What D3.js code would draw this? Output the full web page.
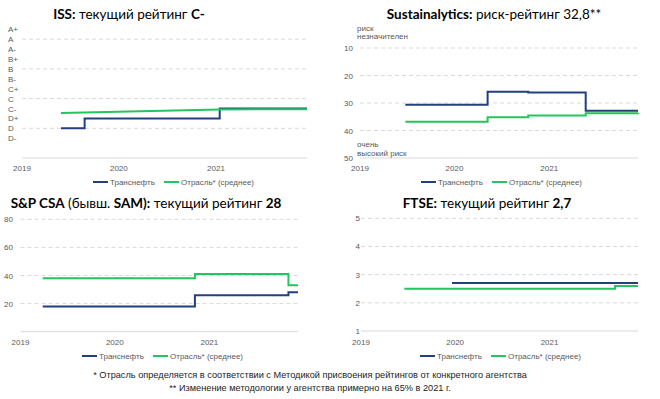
<!DOCTYPE html>
<html>
<head>
<meta charset="utf-8">
<script src="https://cdn.jsdelivr.net/npm/d3@7"></script>
<style>
  body { margin: 0; background: #fff; }
  svg { display: block; }
  .tick-label { font-family: "Liberation Sans", Arial, sans-serif; font-size: 8px; fill: #595959; }
  .legend-label { font-family: "Liberation Sans", Arial, sans-serif; font-size: 8px; fill: #595959; }
  .title { font-family: Lato, "Open Sans", sans-serif; font-size: 13.5px; fill: #000; }
  .note { font-family: "Liberation Sans", Arial, sans-serif; font-size: 9.2px; fill: #222; }
</style>
</head>
<body>
<svg id="chart" width="660" height="399"></svg>
<script>
// ISS
const issLevels = ["D-", "D", "D+", "C-", "C", "C+", "B-", "B", "B+", "A-", "A", "A+"];
const issGrid = ["D", "C", "B", "A"];
const issTransneftDates = ["2019-05-28", "2019-08-25", "2021-01-15", "2021-12-10"];
const issTransneft = ["D", "D+", "C-", "C-"];
const issIndustryDates = ["2019-05-28", "2021-01-15", "2021-12-10"];
const issIndustry = [3.55, 3.9, 3.93];

// Sustainalytics (risk, inverted axis)
const susTicks = [10, 20, 30, 40, 50];
const susDates = ["2019-06-25", "2020-05-08", "2020-10-12", "2021-05-22", "2021-12-10"];
const susTransneft = [30.6, 25.9, 26.2, 32.8, 32.8];
const susIndustry = [36.8, 35.2, 34.5, 33.7, 33.6];

// S&P CSA
const spTicks = [20, 40, 60, 80];
const spDates = ["2019-03-28", "2020-11-06", "2021-11-03", "2021-12-10"];
const spTransneft = [18, 26, 28, 28];
const spIndustry = [38, 41, 33, 33];

// FTSE
const ftseTicks = [1, 2, 3, 4, 5];
const ftseTransneftDates = ["2019-12-20", "2021-12-10"];
const ftseTransneft = [2.7, 2.7];
const ftseIndustryDates = ["2019-06-18", "2021-09-12", "2021-12-10"];
const ftseIndustry = [2.5, 2.6, 2.6];

const years = ["2019", "2020", "2021"];
const seriesNames = ["Транснефть", "Отрасль* (среднее)"];
const notes = [
  "* Отрасль определяется в соответствии с Методикой присвоения рейтингов от конкретного агентства",
  "** Изменение методологии у агентства примерно на 65% в 2021 г."
];

const navy = "#22407c";
const green = "#22c55e";
const parse = d3.timeParse("%Y-%m-%d");
const svg = d3.select("#chart");

function pairs(dates, values) {
  return dates.map((d, i) => ({date: parse(d), value: values[i]}));
}

function drawPanel(p) {
  const g = svg.append("g");
  const x = d3.scaleTime()
    .domain([parse("2019-01-01"), parse("2021-12-10")])
    .range(p.xRange);
  const y = p.y;

  // title
  const t = g.append("text").attr("class", "title")
    .attr("x", p.titleX).attr("y", p.titleY)
    .attr("text-anchor", "middle");
  p.title.forEach(part => {
    t.append("tspan").text(part[0]).attr("font-weight", part[1] ? "bold" : "normal");
  });

  // grid
  g.selectAll(".grid").data(p.grid).enter().append("line")
    .attr("x1", p.xRange[0]).attr("x2", p.xRange[1])
    .attr("y1", d => y(d)).attr("y2", d => y(d))
    .attr("stroke", "#d9d9d9").attr("stroke-width", 1)
    .attr("stroke-dasharray", "4,3");
  g.append("line")
    .attr("x1", p.xRange[0]).attr("x2", p.xRange[1])
    .attr("y1", y(p.base)).attr("y2", y(p.base))
    .attr("stroke", "#d9d9d9").attr("stroke-width", 1);

  // y labels
  g.selectAll(".ylab").data(p.yLabels).enter().append("text")
    .attr("class", "tick-label")
    .attr("x", p.yLabelX).attr("y", d => y(d) + 3)
    .attr("text-anchor", p.yAnchor)
    .text(d => p.yFormat ? p.yFormat(d) : d);

  // x labels
  g.selectAll(".xlab").data(years).enter().append("text")
    .attr("class", "tick-label")
    .attr("x", d => x(parse(d + "-01-01")))
    .attr("y", p.xLabelY)
    .attr("text-anchor", "middle")
    .text(d => d);

  // series
  p.series.forEach(s => {
    const line = d3.line()
      .x(d => x(d.date))
      .y(d => y(d.value))
      .curve(s.step ? d3.curveStepAfter : d3.curveLinear);
    g.append("path").datum(s.data)
      .attr("fill", "none")
      .attr("stroke", s.color)
      .attr("stroke-width", 2)
      .attr("d", line);
  });

  // legend
  const lg = g.append("g").attr("transform", `translate(${p.legendX},${p.legendY})`);
  [[0, navy], [71, green]].forEach((l, i) => {
    lg.append("line").attr("x1", l[0]).attr("x2", l[0] + 15)
      .attr("y1", 0).attr("y2", 0)
      .attr("stroke", l[1]).attr("stroke-width", 2);
    lg.append("text").attr("class", "legend-label")
      .attr("x", l[0] + 17).attr("y", 3)
      .text(seriesNames[i]);
  });

  if (p.extra) p.extra(g, y);
}

// ISS panel
const issY = d3.scaleLinear().domain([-1, 11]).range([158, 39.2]);
const issIdx = v => issLevels.indexOf(v) + 1;
drawPanel({
  title: [["ISS:", true], [" текущий рейтинг ", false], ["C-", true]],
  titleX: 129, titleY: 19,
  xRange: [22, 307],
  y: issY,
  grid: issGrid.map(issIdx),
  base: -1,
  yLabels: issLevels.map((d, i) => i + 1).reverse(),
  yFormat: d => issLevels[d - 1],
  yLabelX: 8, yAnchor: "start",
  xLabelY: 171,
  legendX: 93, legendY: 182,
  series: [
    {data: pairs(issTransneftDates, issTransneft.map(issIdx)), color: navy, step: true},
    {data: pairs(issIndustryDates, issIndustry), color: green, step: false}
  ]
});

// Sustainalytics panel
drawPanel({
  title: [["Sustainalytics:", true], [" риск-рейтинг 32,8**", false]],
  titleX: 494, titleY: 19,
  xRange: [360, 638],
  y: d3.scaleLinear().domain([0, 50]).range([20.5, 158]),
  grid: susTicks.slice(0, 4),
  base: 50,
  yLabels: susTicks,
  yLabelX: 353, yAnchor: "end",
  xLabelY: 171,
  legendX: 421, legendY: 182,
  series: [
    {data: pairs(susDates, susTransneft), color: navy, step: true},
    {data: pairs(susDates, susIndustry), color: green, step: true}
  ],
  extra: (g) => {
    [["риск", 31], ["незначителен", 39], ["очень", 147], ["высокий риск", 156]].forEach(a => {
      g.append("text").attr("class", "tick-label")
        .attr("x", 357).attr("y", a[1])
        .attr("font-size", "7.5px")
        .text(a[0]);
    });
  }
});

// S&P CSA panel
drawPanel({
  title: [["S&P CSA", true], [" (бывш. ", false], ["SAM):", true], [" текущий рейтинг ", false], ["28", true]],
  titleX: 146, titleY: 208,
  xRange: [20.5, 298],
  y: d3.scaleLinear().domain([0, 80]).range([331.7, 219.3]),
  grid: spTicks,
  base: 0,
  yLabels: spTicks,
  yLabelX: 13, yAnchor: "end",
  xLabelY: 345,
  legendX: 82, legendY: 356,
  series: [
    {data: pairs(spDates, spTransneft), color: navy, step: true},
    {data: pairs(spDates, spIndustry), color: green, step: true}
  ]
});

// FTSE panel
drawPanel({
  title: [["FTSE:", true], [" текущий рейтинг ", false], ["2,7", true]],
  titleX: 487, titleY: 208,
  xRange: [361, 638],
  y: d3.scaleLinear().domain([1, 5]).range([331, 218.3]),
  grid: ftseTicks.slice(1),
  base: 1,
  yLabels: ftseTicks,
  yLabelX: 360, yAnchor: "end",
  xLabelY: 345,
  legendX: 420, legendY: 356,
  series: [
    {data: pairs(ftseTransneftDates, ftseTransneft), color: navy, step: true},
    {data: pairs(ftseIndustryDates, ftseIndustry), color: green, step: true}
  ]
});

// footnotes
svg.selectAll(".note").data(notes).enter().append("text")
  .attr("class", "note")
  .attr("x", 310)
  .attr("y", (d, i) => 378 + i * 13)
  .attr("text-anchor", "middle")
  .text(d => d);
</script>
</body>
</html>
